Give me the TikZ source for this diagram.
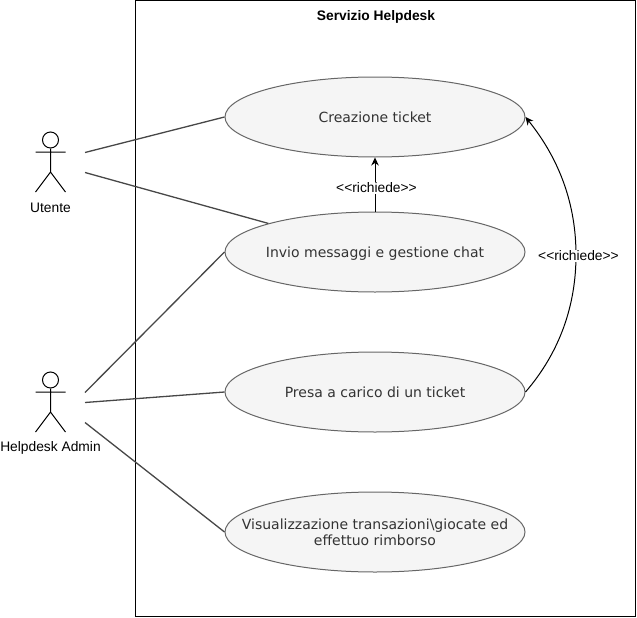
\documentclass[tikz,border=0pt]{standalone}
\usepackage{fontspec}
\setmainfont{Liberation Sans}
\newfontfamily\ucfont{DejaVu Sans}
\usetikzlibrary{shapes.geometric,arrows.meta}
\definecolor{uctext}{HTML}{333333}
\definecolor{ucline}{HTML}{666666}
\definecolor{ucfill}{HTML}{F5F5F5}
\tikzset{
  usecase/.style={ellipse,draw=ucline,fill=ucfill,line width=1pt,minimum width=300pt,minimum height=80pt,inner sep=0pt,
    text=uctext,font=\ucfont\fontsize{14}{15.5}\selectfont},
  assoc/.style={draw=uctext!90,line width=1.3pt},
  dep/.style={draw=black,line width=1pt,-{Stealth[length=8pt,width=7.5pt]}},
  lbl/.style={font=\fontsize{13.8}{16}\selectfont,text=black,inner sep=1pt},
  deplbl/.style={lbl,fill=white},
  actorline/.style={draw=black,line width=1pt},
}
\newcommand{\uctxt}[1]{\makebox[0pt]{\raisebox{-6pt}[0pt][0pt]{\parbox{300pt}{\centering\strut #1\strut}}}}
\begin{document}
\begin{tikzpicture}[x=1pt,y=-1pt]
\useasboundingbox (0,0) rectangle (637,618);
\node[draw=black,line width=1pt,minimum width=500pt,minimum height=616pt,inner sep=0pt,anchor=north west] (sys) at (135,0) {};
\node[font=\bfseries\fontsize{13.8}{16}\selectfont,inner sep=0pt] (title) at (376,17) {Servizio Helpdesk};

\node[usecase] (e1) at (375,117) {\uctxt{Creazione ticket}};
\node[usecase] (e2) at (375,252) {\uctxt{Invio messaggi e gestione chat}};
\node[usecase] (e3) at (375,392) {\uctxt{Presa a carico di un ticket}};
\node[usecase] (e4) at (375,532) {\uctxt{Visualizzazione transazioni\textbackslash giocate ed\\\strut effettuo rimborso}};

% actor Utente
\node[circle,draw=black,line width=1pt,minimum size=16pt,inner sep=0pt] (uh) at (50.5,140) {};
\coordinate (ul) at (35.5,152); \coordinate (ur) at (65.5,152);
\coordinate (uc) at (50.5,172);
\coordinate (uf1) at (35.5,192); \coordinate (uf2) at (65.5,192);
\draw[actorline] (uh.south) -- (uc) (ul) -- (ur) (uf1) -- (uc) -- (uf2);
\node[lbl] (ulabel) at (50.5,208) {Utente};

% actor Helpdesk Admin
\node[circle,draw=black,line width=1pt,minimum size=16pt,inner sep=0pt] (ah) at (50.5,380) {};
\coordinate (al) at (35.5,392); \coordinate (ar) at (65.5,392);
\coordinate (ac) at (50.5,412);
\coordinate (af1) at (35.5,432); \coordinate (af2) at (65.5,432);
\draw[actorline] (ah.south) -- (ac) (al) -- (ar) (af1) -- (ac) -- (af2);
\node[lbl] (alabel) at (50.5,448) {Helpdesk Admin};

% free ends
\coordinate (u1) at (85,152.5); \coordinate (u2) at (85,172.5);
\coordinate (a1) at (85,392.5); \coordinate (a2) at (85,402.5); \coordinate (a3) at (85,422.5);

\draw[assoc] (u1) -- (e1.west);
\draw[assoc] (u2) -- (e2.165);
\draw[assoc] (a1) -- (e2.west);
\draw[assoc] (a2) -- (e3.west);
\draw[assoc] (a3) -- (e4.west);

\draw[dep] (e2.north) -- node[deplbl,pos=0.44,xshift=1.5pt] (r1) {<{}<richiede>{}>} (e1.south);
\draw[dep] (e3.east) .. controls (560,352) and (576,305) .. (576,255) .. controls (576,205) and (560,160) .. (e1.east);
\node[deplbl] (r2) at (578.5,256) {<{}<richiede>{}>};
\end{tikzpicture}
\end{document}
